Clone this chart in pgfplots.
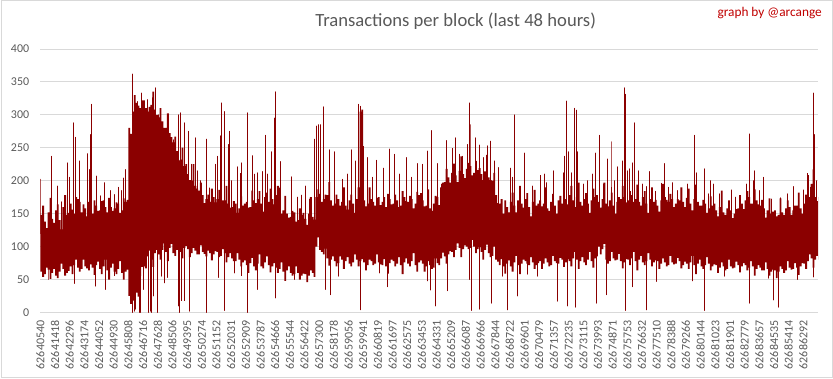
\documentclass[border=0pt]{standalone}
\usepackage{fontspec}
\setmainfont{Carlito}
\usepackage{pgfplots}
\pgfplotsset{compat=1.18}
\usepackage{pgfplotstable}
\usepgfplotslibrary{fillbetween}
\definecolor{dr}{RGB}{139,0,0}
\definecolor{txt}{RGB}{89,89,89}
\definecolor{grd}{RGB}{217,217,217}
\definecolor{sig}{RGB}{192,0,0}

\pgfplotstableread{
x hi lo
0 148 62
0.125 162 54
0.25 138 58
0.375 128 68
0.5 152 65
0.625 174 51
0.75 142 60
0.875 136 66
1 155 56
1.125 164 52
1.25 140 62
1.375 126 74
1.5 160 66
1.625 178 56
1.75 148 60
1.875 151 63
2 165 70
2.125 156 58
2.25 150 72
2.375 175 80
2.5 172 68
2.625 168 62
2.75 152 66
2.875 164 80
3 158 70
3.125 146 67
3.25 168 64
3.375 175 73
3.5 150 68
3.625 170 57
3.75 162 72
3.875 154 77
4 155 66
4.125 169 58
4.25 170 70
4.375 160 80
4.5 152 64
4.625 174 50
4.75 160 68
4.875 154 74
5 158 62
5.125 167 58
5.25 165 66
5.375 151 78
5.5 155 60
5.625 173 50
5.75 168 62
5.875 171 65
6 280 25
6.125 271 13
6.25 305 18
6.375 330 26
6.5 318 30
6.625 314 24
6.75 310 55
6.875 322 69
7 322 70
7.125 310 67
7.25 305 85
7.375 312 94
7.5 315 80
7.625 335 69
7.75 308 90
7.875 300 95
8 296 88
8.125 310 80
8.25 290 95
8.375 280 105
8.5 280 92
8.625 302 78
8.75 272 98
8.875 266 104
9 258 90
9.125 267 86
9.25 245 95
9.375 231 107
9.5 232 92
9.625 250 82
9.75 222 98
9.875 225 101
10 210 96
10.125 201 84
10.25 200 90
10.375 225 98
10.5 192 94
10.625 188 88
10.75 185 88
10.875 197 102
11 178 92
11.125 166 89
11.25 172 85
11.375 179 94
11.5 168 90
11.625 188 79
11.75 175 88
11.875 167 93
12 172 92
12.125 186 84
12.25 180 86
12.375 170 96
12.5 170 90
12.625 192 76
12.75 165 84
12.875 159 90
13 160 82
13.125 169 78
13.25 165 78
13.375 151 90
13.5 158 80
13.625 176 70
13.75 162 76
13.875 165 79
14 168 72
14.125 159 60
14.25 160 75
14.375 185 83
14.5 170 70
14.625 166 64
14.75 172 74
14.875 184 88
15 165 70
15.125 153 67
15.25 175 76
15.375 182 85
15.5 168 72
15.625 188 61
15.75 172 70
15.875 164 75
16 178 68
16.125 192 60
16.25 160 66
16.375 150 76
16.5 155 62
16.625 177 48
16.75 150 64
16.875 144 70
17 145 60
17.125 154 56
17.25 152 58
17.375 138 70
17.5 140 60
17.625 158 50
17.75 148 56
17.875 151 59
18 142 58
18.125 133 46
18.25 150 56
18.375 175 64
18.5 145 60
18.625 141 54
18.75 175 100
18.875 187 114
19 180 95
19.125 168 92
19.25 172 88
19.375 179 97
19.5 178 82
19.625 198 71
19.75 170 80
19.875 162 85
20 165 78
20.125 179 70
20.25 172 75
20.375 162 85
20.5 168 80
20.625 190 66
20.75 162 78
20.875 156 84
21 170 74
21.125 179 70
21.25 165 76
21.375 151 88
21.5 172 80
21.625 190 70
21.75 305 78
21.875 308 81
22 170 76
22.125 161 64
22.25 165 72
22.375 190 80
22.5 172 78
22.625 168 72
22.75 162 74
22.875 174 88
23 175 76
23.125 163 73
23.25 168 72
23.375 175 81
23.5 160 70
23.625 180 59
23.75 172 75
23.875 164 80
24 165 78
24.125 179 70
24.25 170 74
24.375 160 84
24.5 162 72
24.625 184 58
24.75 175 76
24.875 169 82
25 168 74
25.125 177 70
25.25 172 78
25.375 158 90
25.5 165 72
25.625 183 62
25.75 178 76
25.875 181 79
26 170 74
26.125 161 62
26.25 162 70
26.375 187 78
26.5 158 72
26.625 154 66
26.75 165 68
26.875 177 82
27 175 75
27.125 163 72
27.25 190 82
27.375 197 91
27.5 198 85
27.625 218 74
27.75 205 88
27.875 197 93
28 212 92
28.125 226 84
28.25 208 95
28.375 198 105
28.5 215 98
28.625 237 84
28.75 210 96
28.875 204 102
29 218 100
29.125 227 96
29.25 222 98
29.375 208 110
29.5 212 100
29.625 230 90
29.75 216 96
29.875 219 99
30 210 92
30.125 201 80
30.25 214 95
30.375 239 103
30.5 205 90
30.625 201 84
30.75 200 86
30.875 212 100
31 178 80
31.125 166 77
31.25 165 72
31.375 172 81
31.5 150 70
31.625 170 59
31.75 160 74
31.875 152 79
32 168 70
32.125 182 62
32.25 162 76
32.375 152 86
32.5 170 72
32.625 192 58
32.75 165 74
32.875 159 80
33 172 78
33.125 181 74
33.25 160 72
33.375 146 84
33.5 168 76
33.625 186 66
33.75 162 72
33.875 165 75
34 170 78
34.125 161 66
34.25 165 74
34.375 190 82
34.5 158 76
34.625 154 70
34.75 168 72
34.875 180 86
35 162 78
35.125 150 75
35.25 170 74
35.375 177 83
35.5 165 80
35.625 185 69
35.75 172 76
35.875 164 81
36 178 78
36.125 192 70
36.25 170 82
36.375 160 92
36.5 175 80
36.625 197 66
36.75 168 78
36.875 162 84
37 172 76
37.125 181 72
37.25 165 80
37.375 151 92
37.5 170 78
37.625 188 68
37.75 175 82
37.875 178 85
38 168 100
38.125 159 88
38.25 172 96
38.375 197 104
38.5 165 80
38.625 161 74
38.75 170 78
38.875 182 92
39 162 82
39.125 150 79
39.25 168 80
39.375 175 89
39.5 172 78
39.625 192 67
39.75 175 76
39.875 167 81
40 170 80
40.125 184 72
40.25 178 82
40.375 168 92
40.5 172 78
40.625 194 64
40.75 168 80
40.875 162 86
41 175 76
41.125 184 72
41.25 165 78
41.375 151 90
41.5 172 80
41.625 190 70
41.75 168 76
41.875 171 79
42 162 78
42.125 153 66
42.25 170 74
42.375 195 82
42.5 175 76
42.625 171 70
42.75 168 72
42.875 180 86
43 172 76
43.125 160 73
43.25 165 74
43.375 172 83
43.5 170 78
43.625 190 67
43.75 168 72
43.875 160 77
44 174 74
44.125 188 66
44.25 165 76
44.375 155 86
44.5 172 72
44.625 194 58
44.75 168 74
44.875 162 80
45 162 70
45.125 171 66
45.25 165 72
45.375 151 84
45.5 158 74
45.625 176 64
45.75 162 70
45.875 165 73
46 155 72
46.125 146 60
46.25 160 68
46.375 185 76
46.5 152 70
46.625 148 64
46.75 158 66
46.875 170 80
47 155 70
47.125 143 67
47.25 150 68
47.375 157 77
47.5 158 72
47.625 178 61
47.75 165 70
47.875 157 75
48 170 72
48.125 184 64
48.25 175 68
48.375 165 78
48.5 165 70
48.625 187 56
48.75 170 66
48.875 164 72
49 162 68
49.125 171 64
49.25 158 64
49.375 144 76
49.5 155 66
49.625 173 56
49.75 150 62
49.875 153 65
50 155 64
50.125 146 52
50.25 148 62
50.375 173 70
50.5 152 66
50.625 148 60
50.75 158 64
50.875 170 78
51 160 68
51.125 148 65
51.25 155 66
51.375 162 75
51.5 162 68
51.625 182 57
51.75 158 70
51.875 150 75
52 165 74
52.125 179 66
52.25 185 78
52.375 175 88
52.5 195 82
52.625 217 68
52.75 175 80
52.875 169 86
53 175 80
}\band

\begin{document}
\begin{tikzpicture}
\begin{axis}[
  at={(39bp,66bp)}, anchor=south west,
  scale only axis, width=779bp, height=264bp,
  xmin=0, xmax=53, ymin=0, ymax=400,
  ytick={0,50,...,400},
  xtick={0,...,52},
  xticklabels={62640540,62641418,62642296,62643174,62644052,62644930,62645808,62646716,62647628,62648506,62649395,62650274,62651152,62652031,62652909,62653787,62654666,62655544,62656422,62657300,62658178,62659056,62659941,62660819,62661697,62662575,62663453,62664331,62665209,62666087,62666966,62667844,62668722,62669601,62670479,62671357,62672235,62673115,62673993,62674871,62675753,62676632,62677510,62678388,62679266,62680144,62681023,62681901,62682779,62683657,62684535,62685414,62686292},
  axis line style={draw=none},
  major tick length=0pt,
  ymajorgrids, grid style={grd, line width=0.75bp},
  tick label style={font=\fontsize{12bp}{14bp}\selectfont, text=txt},
  xticklabel style={rotate=90, anchor=east, inner xsep=8bp},
  yticklabel style={anchor=east, inner xsep=11bp},
  /pgf/number format/assume math mode=true,
]
\addplot[draw=none, const plot, name path=hi] table[x=x,y=hi]{\band};
\addplot[draw=none, const plot, name path=lo] table[x=x,y=lo]{\band};
\addplot[fill=dr, draw=none] fill between[of=hi and lo];
\addplot[dr, line width=0.8bp, line join=round] coordinates {
(0.02,120)(0.02,202)(0.02,120)(0.52,120)(0.52,50)(0.52,120)(0.77,120)(0.77,237)(0.77,120)
(1.13,120)(1.13,192)(1.13,120)(1.45,120)(1.45,168)(1.45,120)(1.84,120)(1.84,227)(1.84,120)
(1.97,120)(1.97,205)(1.97,120)(2.27,120)(2.27,288)(2.27,120)(2.30,120)(2.30,44)(2.30,120)
(2.40,120)(2.40,266)(2.40,120)(2.63,120)(2.63,230)(2.63,120)(3.22,120)(3.22,241)(3.22,120)
(3.36,120)(3.36,217)(3.36,120)(3.42,120)(3.42,270)(3.42,120)(3.49,120)(3.49,316)(3.49,120)
(3.72,120)(3.72,40)(3.72,120)(3.83,120)(3.83,207)(3.83,120)(4.08,120)(4.08,177)(4.08,120)
(4.38,120)(4.38,197)(4.38,120)(4.44,120)(4.44,35)(4.44,120)(4.8,120)(4.8,185)(4.8,120)
(5.04,120)(5.04,56)(5.04,120)(5.06,120)(5.06,179)(5.06,120)(5.3,120)(5.3,190)(5.3,120)
(5.53,120)(5.53,185)(5.53,120)(5.67,120)(5.67,204)(5.67,120)(5.80,120)(5.80,217)(5.80,120)
(6.24,120)(6.24,362)(6.24,120)(6.28,120)(6.28,338)(6.28,120)(6.30,120)(6.30,0)(6.30,120)
(6.40,120)(6.40,2)(6.40,120)(6.50,120)(6.50,5)(6.50,120)(6.62,120)(6.62,320)(6.62,120)
(6.75,120)(6.75,0)(6.75,120)(6.85,120)(6.85,0)(6.85,120)(6.90,120)(6.90,333)(6.90,120)
(7.01,120)(7.01,35)(7.01,120)(7.10,120)(7.10,315)(7.10,120)(7.30,120)(7.30,323)(7.30,120)
(7.39,120)(7.39,0)(7.39,120)(7.48,120)(7.48,2)(7.48,120)(7.55,120)(7.55,0)(7.55,120)
(7.66,120)(7.66,326)(7.66,120)(7.70,120)(7.70,25)(7.70,120)(7.82,120)(7.82,341)(7.82,120)
(7.96,120)(7.96,0)(7.96,120)(8.05,120)(8.05,300)(8.05,120)(8.23,120)(8.23,55)(8.23,120)
(8.45,120)(8.45,45)(8.45,120)(8.68,120)(8.68,53)(8.68,120)(9.05,120)(9.05,262)(9.05,120)
(9.41,120)(9.41,10)(9.41,120)(9.43,120)(9.43,300)(9.43,120)(9.50,120)(9.50,0)(9.50,120)
(9.52,120)(9.52,303)(9.52,120)(9.64,120)(9.64,18)(9.64,120)(9.70,120)(9.70,230)(9.70,120)
(9.80,120)(9.80,18)(9.80,120)(9.82,120)(9.82,288)(9.82,120)(10.11,120)(10.11,275)(10.11,120)
(10.15,120)(10.15,2)(10.15,120)(10.32,120)(10.32,225)(10.32,120)(10.59,120)(10.59,265)(10.59,120)
(10.70,120)(10.70,215)(10.70,120)(10.9,120)(10.9,200)(10.9,120)(11.29,120)(11.29,263)(11.29,120)
(11.34,120)(11.34,0)(11.34,120)(11.52,120)(11.52,189)(11.52,120)(11.90,120)(11.90,225)(11.90,120)
(12.09,120)(12.09,237)(12.09,120)(12.12,120)(12.12,53)(12.12,120)(12.27,120)(12.27,268)(12.27,120)
(12.34,120)(12.34,318)(12.34,120)(12.54,120)(12.54,305)(12.54,120)(12.56,120)(12.56,3)(12.56,120)
(12.83,120)(12.83,255)(12.83,120)(12.88,120)(12.88,275)(12.88,120)(13.0,120)(13.0,200)(13.0,120)
(13.2,120)(13.2,60)(13.2,120)(13.4,120)(13.4,221)(13.4,120)(13.62,120)(13.62,211)(13.62,120)
(13.69,120)(13.69,56)(13.69,120)(13.72,120)(13.72,227)(13.72,120)(14.10,120)(14.10,303)(14.10,120)
(14.12,120)(14.12,0)(14.12,120)(14.44,120)(14.44,238)(14.44,120)(14.62,120)(14.62,210)(14.62,120)
(14.76,120)(14.76,212)(14.76,120)(14.78,120)(14.78,35)(14.78,120)(15.14,120)(15.14,214)(15.14,120)
(15.33,120)(15.33,269)(15.33,120)(15.48,120)(15.48,210)(15.48,120)(15.76,120)(15.76,244)(15.76,120)
(15.94,120)(15.94,295)(15.94,120)(16.01,120)(16.01,335)(16.01,120)(16.03,120)(16.03,22)(16.03,120)
(16.28,120)(16.28,189)(16.28,120)(16.39,120)(16.39,229)(16.39,120)(16.7,120)(16.7,52)(16.7,120)
(17.09,120)(17.09,206)(17.09,120)(17.3,120)(17.3,50)(17.3,120)(17.52,120)(17.52,175)(17.52,120)
(17.8,120)(17.8,178)(17.8,120)(18.09,120)(18.09,192)(18.09,120)(18.36,120)(18.36,172)(18.36,120)
(18.66,120)(18.66,263)(18.66,120)(18.84,120)(18.84,283)(18.84,120)(18.98,120)(18.98,285)(18.98,120)
(19.11,120)(19.11,285)(19.11,120)(19.32,120)(19.32,312)(19.32,120)(19.41,120)(19.41,35)(19.41,120)
(19.72,120)(19.72,247)(19.72,120)(19.75,120)(19.75,27)(19.75,120)(20.06,120)(20.06,244)(20.06,120)
(20.3,120)(20.3,55)(20.3,120)(20.59,120)(20.59,202)(20.59,120)(20.9,120)(20.9,210)(20.9,120)
(21.22,120)(21.22,247)(21.22,120)(21.45,120)(21.45,230)(21.45,120)(21.70,120)(21.70,316)(21.70,120)
(21.79,120)(21.79,4)(21.79,120)(21.84,120)(21.84,313)(21.84,120)(22.01,120)(22.01,252)(22.01,120)
(22.29,120)(22.29,235)(22.29,120)(22.6,120)(22.6,205)(22.6,120)(22.92,120)(22.92,231)(22.92,120)
(23.1,120)(23.1,60)(23.1,120)(23.35,120)(23.35,219)(23.35,120)(23.62,120)(23.62,39)(23.62,120)
(23.81,120)(23.81,248)(23.81,120)(24.10,120)(24.10,240)(24.10,120)(24.5,120)(24.5,210)(24.5,120)
(24.92,120)(24.92,235)(24.92,120)(25.3,120)(25.3,205)(25.3,120)(25.69,120)(25.69,226)(25.69,120)
(26.03,120)(26.03,225)(26.03,120)(26.37,120)(26.37,245)(26.37,120)(26.40,120)(26.40,48)(26.40,120)
(26.55,120)(26.55,34)(26.55,120)(26.64,120)(26.64,276)(26.64,120)(26.90,120)(26.90,10)(26.90,120)
(27.05,120)(27.05,226)(27.05,120)(27.3,120)(27.3,195)(27.3,120)(27.69,120)(27.69,261)(27.69,120)
(27.71,120)(27.71,33)(27.71,120)(28.07,120)(28.07,249)(28.07,120)(28.26,120)(28.26,265)(28.26,120)
(28.53,120)(28.53,240)(28.53,120)(28.75,120)(28.75,237)(28.75,120)(29.07,120)(29.07,255)(29.07,120)
(29.21,120)(29.21,318)(29.21,120)(29.22,120)(29.22,50)(29.22,120)(29.28,120)(29.28,285)(29.28,120)
(29.39,120)(29.39,3)(29.39,120)(29.62,120)(29.62,265)(29.62,120)(29.89,120)(29.89,254)(29.89,120)
(29.91,120)(29.91,5)(29.91,120)(30.2,120)(30.2,235)(30.2,120)(30.45,120)(30.45,253)(30.45,120)
(30.64,120)(30.64,260)(30.64,120)(30.75,120)(30.75,14)(30.75,120)(30.91,120)(30.91,230)(30.91,120)
(31.25,120)(31.25,220)(31.25,120)(31.5,120)(31.5,55)(31.5,120)(31.86,120)(31.86,4)(31.86,120)
(32.0,120)(32.0,219)(32.0,120)(32.2,120)(32.2,205)(32.2,120)(32.34,120)(32.34,300)(32.34,120)
(32.54,120)(32.54,25)(32.54,120)(32.99,120)(32.99,242)(32.99,120)(33.2,120)(33.2,58)(33.2,120)
(33.56,120)(33.56,192)(33.56,120)(33.9,120)(33.9,55)(33.9,120)(34.08,120)(34.08,208)(34.08,120)
(34.35,120)(34.35,210)(34.35,120)(34.49,120)(34.49,197)(34.49,120)(34.99,120)(34.99,215)(34.99,120)
(35.26,120)(35.26,17)(35.26,120)(35.62,120)(35.62,212)(35.62,120)(35.74,120)(35.74,237)(35.74,120)
(35.85,120)(35.85,321)(35.85,120)(35.90,120)(35.90,10)(35.90,120)(36.01,120)(36.01,244)(36.01,120)
(36.17,120)(36.17,212)(36.17,120)(36.42,120)(36.42,310)(36.42,120)(36.48,120)(36.48,8)(36.48,120)
(36.51,120)(36.51,307)(36.51,120)(36.62,120)(36.62,244)(36.62,120)(37.0,120)(37.0,195)(37.0,120)
(37.3,120)(37.3,200)(37.3,120)(37.6,120)(37.6,210)(37.6,120)(37.83,120)(37.83,242)(37.83,120)
(37.89,120)(37.89,14)(37.89,120)(38.12,120)(38.12,269)(38.12,120)(38.40,120)(38.40,195)(38.40,120)
(38.59,120)(38.59,27)(38.59,120)(38.62,120)(38.62,233)(38.62,120)(38.89,120)(38.89,259)(38.89,120)
(39.10,120)(39.10,200)(39.10,120)(39.30,120)(39.30,221)(39.30,120)(39.68,120)(39.68,230)(39.68,120)
(39.82,120)(39.82,341)(39.82,120)(39.84,120)(39.84,331)(39.84,120)(39.88,120)(39.88,3)(39.88,120)
(40.02,120)(40.02,215)(40.02,120)(40.15,120)(40.15,218)(40.15,120)(40.36,120)(40.36,227)(40.36,120)
(40.38,120)(40.38,39)(40.38,120)(40.50,120)(40.50,288)(40.50,120)(40.77,120)(40.77,215)(40.77,120)
(41.0,120)(41.0,195)(41.0,120)(41.31,120)(41.31,191)(41.31,120)(41.33,120)(41.33,4)(41.33,120)
(41.52,120)(41.52,214)(41.52,120)(41.95,120)(41.95,184)(41.95,120)(42.0,120)(42.0,47)(42.0,120)
(42.33,120)(42.33,196)(42.33,120)(42.56,120)(42.56,226)(42.56,120)(42.8,120)(42.8,190)(42.8,120)
(43.08,120)(43.08,197)(43.08,120)(43.4,120)(43.4,185)(43.4,120)(43.72,120)(43.72,186)(43.72,120)
(44.12,120)(44.12,195)(44.12,120)(44.44,120)(44.44,48)(44.44,120)(44.58,120)(44.58,269)(44.58,120)
(44.74,120)(44.74,212)(44.74,120)(45.26,120)(45.26,218)(45.26,120)(45.28,120)(45.28,3)(45.28,120)
(45.53,120)(45.53,180)(45.53,120)(45.69,120)(45.69,200)(45.69,120)(45.85,120)(45.85,195)(45.85,120)
(46.3,120)(46.3,180)(46.3,120)(46.6,120)(46.6,55)(46.6,120)(47.12,120)(47.12,186)(47.12,120)
(47.4,120)(47.4,175)(47.4,120)(47.64,120)(47.64,173)(47.64,120)(48.14,120)(48.14,195)(48.14,120)
(48.32,120)(48.32,271)(48.32,120)(48.34,120)(48.34,14)(48.34,120)(48.59,120)(48.59,200)(48.59,120)
(48.66,120)(48.66,215)(48.66,120)(49.0,120)(49.0,185)(49.0,120)(49.27,120)(49.27,205)(49.27,120)
(49.6,120)(49.6,52)(49.6,120)(49.84,120)(49.84,172)(49.84,120)(49.95,120)(49.95,19)(49.95,120)
(50.31,120)(50.31,8)(50.31,120)(50.45,120)(50.45,174)(50.45,120)(50.9,120)(50.9,180)(50.9,120)
(51.31,120)(51.31,191)(51.31,120)(51.6,120)(51.6,50)(51.6,120)(51.99,120)(51.99,186)(51.99,120)
(52.29,120)(52.29,211)(52.29,120)(52.36,120)(52.36,208)(52.36,120)(52.49,120)(52.49,190)(52.49,120)
(52.67,120)(52.67,333)(52.67,120)(52.69,120)(52.69,54)(52.69,120)(52.72,120)(52.72,270)(52.72,120)
(52.90,120)(52.90,200)(52.90,120)
};
\end{axis}
\node[font=\fontsize{18.67bp}{22bp}\selectfont, text=txt, anchor=base] at (455bp,352bp) {Transactions per block (last 48 hours)};
\node[font=\fontsize{13.33bp}{16bp}\selectfont, text=sig, anchor=base east, inner sep=0pt] at (822bp,362bp) {graph by @arcange};
\draw[grd, line width=1bp] (0.5bp,0.5bp) rectangle (832.5bp,378.5bp);
\end{tikzpicture}
\end{document}
